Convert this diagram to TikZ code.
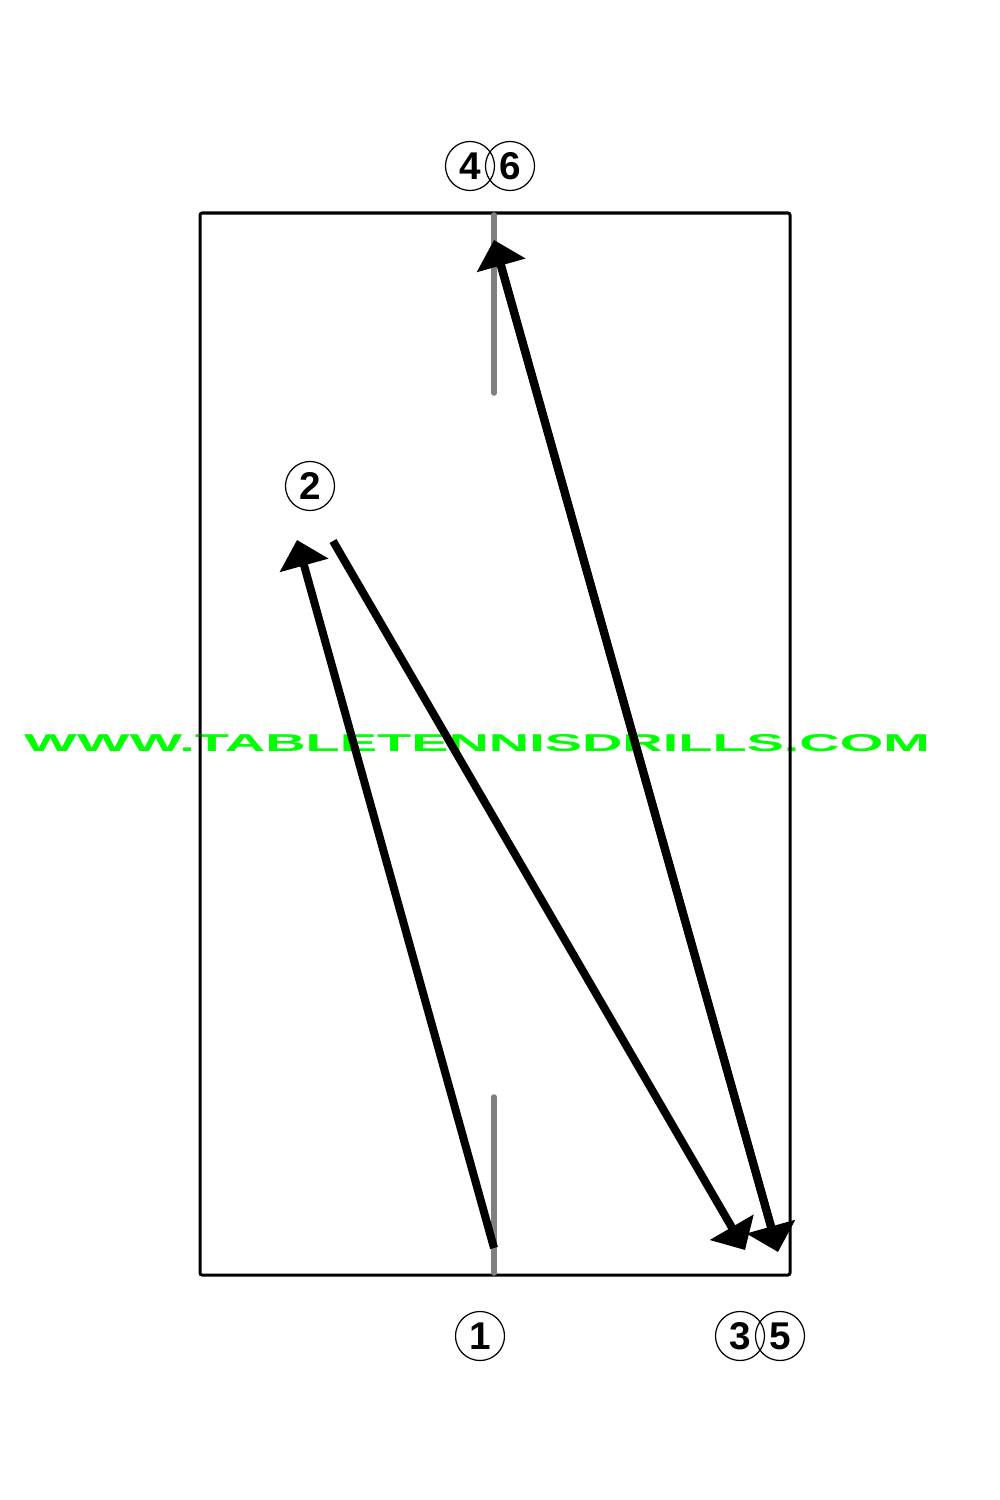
\documentclass[tikz,border=0pt]{standalone}
\usepackage{fontspec}
\setmainfont{Liberation Sans}
\usetikzlibrary{arrows.meta}
\definecolor{sitegreen}{RGB}{0,255,0}
\definecolor{netgray}{RGB}{128,128,128}
\tikzset{
	ballno/.style={circle, draw, line width=0.35pt, minimum size=0.49cm, inner sep=0pt, font=\fontsize{11}{13}\selectfont\bfseries},
	shot/.style={line width=0.08cm, -{Triangle[length=7.5pt,width=14pt]}},
}
\begin{document}
\begin{tikzpicture}[x=0.01cm, y=-0.01cm]
			%%%%% START %%%%%
			\useasboundingbox (0, 0) rectangle (1000, 1500);
			
			\node[inner sep=0pt, text=sitegreen] (site) at (477, 743) {\resizebox{9.05cm}{0.17cm}{\bfseries WWW.TABLETENNISDRILLS.COM}};
			
			\draw[line width=0.03cm, rounded corners=0.6pt] (200, 213) rectangle (790, 1275);
			\draw[netgray, line width=0.055cm, line cap=round] (494, 215) -- (494, 393);
			\draw[netgray, line width=0.055cm, line cap=round] (494, 1097) -- (494, 1273);
			
			\coordinate (s1) at (494, 1248);
			\coordinate (e2) at (297, 540);
			\coordinate (s2) at (333, 541);
			\coordinate (e3) at (745, 1250);
			\coordinate (s3) at (776, 1244);
			\coordinate (e4) at (494, 240);
			\coordinate (s4) at (497, 252);
			\coordinate (e5) at (778, 1252);
			
			\draw[shot] (s1) -- (e2);
			\draw[shot] (s2) -- (e3);
			\draw[shot] (s3) -- (e4);
			\draw[shot] (s4) -- (e5);
			
			\node[ballno] (n1) at (480, 1336) {1};
			\node[ballno] (n2) at (310, 486) {2};
			\node[ballno] (n3) at (740, 1336) {3};
			\node[ballno] (n5) at (780, 1336) {5};
			\node[ballno] (n4) at (470, 166) {4};
			\node[ballno] (n6) at (510, 166) {6};
			%%%%% END %%%%%
\end{tikzpicture}
\end{document}
